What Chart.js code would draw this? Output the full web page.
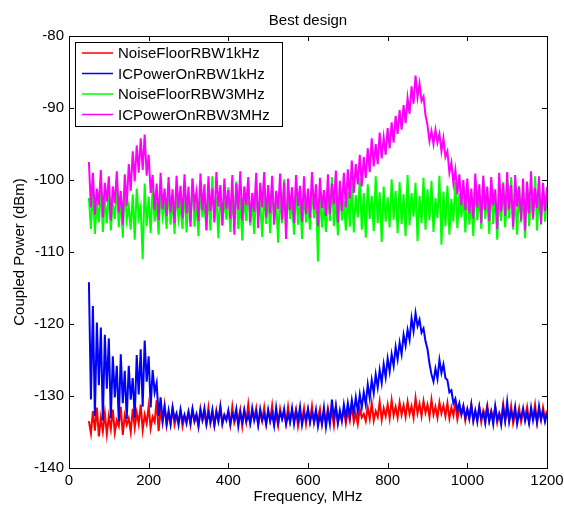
<!DOCTYPE html>
<html>
<head>
<meta charset="utf-8">
<title>Best design</title>
<script src="https://cdn.jsdelivr.net/npm/chart.js@4/dist/chart.umd.min.js"></script>
<style>
  html, body { margin: 0; padding: 0; background: #fff; }
  canvas { display: block; }
</style>
</head>
<body>
<canvas id="grafico" width="564" height="508"></canvas>
<script>
// eixo de frequência (MHz), um ponto a cada 5 MHz
const freqMHz = [
  50,55,60,65,70,75,80,85,90,95,100,105,110,115,120,125,130,135,140,145,
  150,155,160,165,170,175,180,185,190,195,200,205,210,215,220,225,230,235,240,245,
  250,255,260,265,270,275,280,285,290,295,300,305,310,315,320,325,330,335,340,345,
  350,355,360,365,370,375,380,385,390,395,400,405,410,415,420,425,430,435,440,445,
  450,455,460,465,470,475,480,485,490,495,500,505,510,515,520,525,530,535,540,545,
  550,555,560,565,570,575,580,585,590,595,600,605,610,615,620,625,630,635,640,645,
  650,655,660,665,670,675,680,685,690,695,700,705,710,715,720,725,730,735,740,745,
  750,755,760,765,770,775,780,785,790,795,800,805,810,815,820,825,830,835,840,845,
  850,855,860,865,870,875,880,885,890,895,900,905,910,915,920,925,930,935,940,945,
  950,955,960,965,970,975,980,985,990,995,1000,1005,1010,1015,1020,1025,1030,1035,1040,1045,
  1050,1055,1060,1065,1070,1075,1080,1085,1090,1095,1100,1105,1110,1115,1120,1125,1130,1135,1140,1145,
  1150,1155,1160,1165,1170,1175,1180,1185,1190,1195,1200
];

const noiseFloorRBW1kHz = [
  -133.5,-135.2,-132.1,-134.8,-131.6,-135.6,-133.0,-134.9,-132.4,-135.3,
  -132.8,-134.6,-131.9,-135.1,-133.4,-134.2,-131.5,-135.4,-132.7,-134.0,
  -133.1,-135.0,-131.8,-134.4,-132.3,-133.9,-131.2,-134.7,-132.6,-133.8,
  -131.4,-134.5,-132.9,-133.6,-130.6,-134.9,-132.0,-133.7,-131.3,-134.1,
  -132.5,-133.9,-131.7,-134.0,-132.8,-133.5,-132.1,-134.2,-132.9,-133.3,
  -132.2,-134.0,-131.9,-133.6,-132.7,-134.3,-131.8,-133.4,-132.5,-133.9,
  -131.6,-133.8,-132.4,-134.1,-132.0,-133.5,-131.4,-133.9,-132.6,-133.2,
  -132.3,-134.0,-131.5,-133.7,-132.8,-133.3,-131.9,-134.2,-132.1,-133.6,
  -131.2,-133.8,-132.5,-133.1,-131.7,-134.0,-132.4,-133.5,-131.6,-133.9,
  -132.2,-133.4,-131.3,-133.7,-132.6,-134.1,-131.8,-133.2,-132.4,-133.8,
  -131.5,-133.6,-132.1,-133.3,-131.9,-134.2,-132.7,-133.4,-131.7,-133.9,
  -132.0,-133.5,-131.4,-133.8,-132.5,-133.1,-131.8,-134.0,-132.3,-133.6,
  -131.7,-133.3,-132.2,-134.1,-131.5,-133.7,-132.6,-133.2,-131.9,-133.8,
  -132.1,-133.4,-131.3,-133.6,-132.4,-133.9,-131.8,-133.0,-132.5,-133.5,
  -131.6,-133.2,-131.0,-133.4,-132.1,-132.9,-130.8,-133.3,-131.7,-132.8,
  -131.2,-133.1,-130.6,-132.7,-131.5,-133.0,-130.9,-132.6,-131.3,-132.9,
  -130.8,-132.5,-131.4,-133.0,-130.3,-132.4,-131.1,-132.8,-130.7,-132.3,
  -131.2,-132.9,-130.5,-132.6,-131.5,-133.0,-130.9,-132.4,-131.3,-132.8,
  -131.0,-133.1,-131.6,-132.7,-130.9,-133.2,-131.8,-132.5,-131.4,-133.4,
  -131.9,-133.0,-131.2,-133.5,-132.2,-133.1,-131.5,-133.6,-132.0,-132.8,
  -131.3,-133.4,-132.1,-133.0,-131.6,-133.7,-132.4,-133.2,-131.1,-133.5,
  -132.0,-133.3,-131.4,-133.8,-132.5,-133.1,-131.7,-133.6,-132.2,-132.9,
  -131.5,-133.5,-132.3,-133.0,-131.2,-133.7,-132.1,-133.4,-131.6,-133.2,
  -132.0
];

const icPowerOnRBW1kHz = [
  -114.2,-130.5,-117.5,-132.8,-119.8,-128.5,-120.5,-133.4,-121.5,-129.0,
  -122.0,-133.1,-124.5,-130.2,-125.8,-133.5,-124.2,-131.0,-126.5,-133.2,
  -125.8,-130.5,-127.5,-133.0,-124.3,-129.8,-123.5,-131.5,-122.3,-128.0,
  -124.5,-131.6,-126.4,-129.5,-128.2,-132.8,-130.2,-133.4,-131.5,-133.8,
  -132.0,-133.9,-131.6,-133.2,-132.4,-134.0,-131.9,-133.5,-132.6,-133.8,
  -132.2,-133.7,-131.8,-133.4,-132.5,-134.1,-132.0,-133.3,-131.7,-133.9,
  -132.4,-133.6,-131.9,-134.0,-132.3,-133.5,-131.6,-133.8,-132.7,-133.4,
  -132.0,-133.9,-132.5,-133.2,-131.8,-134.2,-132.3,-133.6,-131.9,-133.5,
  -132.6,-133.8,-131.7,-133.4,-132.2,-134.0,-131.8,-133.3,-132.5,-133.9,
  -131.9,-133.5,-132.4,-134.1,-131.6,-133.7,-132.3,-133.2,-131.8,-133.9,
  -132.5,-133.6,-131.7,-133.9,-132.1,-133.4,-131.5,-134.0,-132.4,-133.3,
  -131.8,-133.7,-132.3,-133.5,-131.9,-134.2,-132.6,-133.8,-131.6,-134.3,
  -132.2,-133.9,-130.5,-133.1,-131.4,-133.8,-132.0,-133.5,-131.2,-133.0,
  -131.0,-132.8,-130.6,-132.4,-130.2,-132.1,-129.8,-131.6,-129.5,-131.2,
  -128.4,-130.3,-127.8,-129.6,-127.0,-128.8,-126.4,-128.2,-125.6,-127.4,
  -124.8,-126.6,-124.2,-125.8,-123.2,-124.9,-122.6,-124.2,-121.5,-123.0,
  -120.8,-122.2,-119.2,-121.0,-118.5,-120.3,-119.4,-121.2,-120.6,-122.4,
  -123.5,-125.5,-127.0,-128.0,-126.2,-127.6,-125.0,-126.8,-125.6,-127.5,
  -127.8,-129.5,-129.2,-131.0,-130.4,-132.0,-131.0,-132.6,-131.4,-133.0,
  -131.8,-133.2,-131.2,-133.4,-132.0,-133.6,-131.5,-133.1,-132.3,-133.8,
  -131.7,-133.5,-132.2,-133.9,-131.4,-133.3,-132.5,-134.0,-131.6,-133.4,
  -130.8,-133.6,-132.1,-133.2,-131.5,-133.9,-132.4,-133.1,-131.7,-133.5,
  -132.3,-133.8,-131.6,-133.4,-132.0,-133.7,-131.4,-133.2,-132.2,-133.6,
  -132.4
];

const noiseFloorRBW3MHz = [
  -102.5,-106.8,-101.2,-107.5,-103.0,-105.9,-100.8,-107.2,-102.6,-106.0,
  -101.5,-107.0,-103.3,-105.4,-100.6,-106.6,-102.2,-108.0,-101.0,-105.5,
  -103.6,-106.9,-102.0,-108.3,-101.2,-105.2,-103.8,-111.0,-100.5,-106.4,
  -102.3,-107.4,-101.0,-105.8,-103.0,-107.6,-101.6,-105.0,-102.8,-106.8,
  -100.4,-106.2,-102.5,-107.5,-101.3,-105.4,-103.4,-106.8,-100.8,-107.3,
  -102.0,-105.8,-99.8,-106.5,-102.7,-107.8,-101.1,-105.2,-103.1,-106.9,
  -101.4,-107.0,-99.5,-105.6,-102.3,-108.1,-100.9,-106.3,-102.5,-105.5,
  -101.0,-107.2,-103.0,-105.6,-100.2,-106.8,-102.4,-108.4,-101.7,-105.7,
  -100.6,-106.3,-102.8,-107.5,-101.2,-105.0,-103.3,-107.9,-101.5,-106.1,
  -102.1,-107.4,-100.4,-105.8,-102.9,-108.7,-101.6,-106.0,-99.9,-106.8,
  -101.8,-105.4,-103.1,-107.6,-100.9,-106.2,-102.3,-108.2,-101.4,-105.9,
  -102.7,-106.9,-100.7,-105.3,-102.0,-111.3,-101.2,-106.6,-103.0,-107.2,
  -101.3,-105.7,-99.6,-106.4,-102.4,-107.7,-100.8,-105.6,-102.9,-107.0,
  -101.6,-106.5,-100.2,-107.3,-102.1,-105.2,-99.8,-106.9,-101.8,-108.0,
  -100.6,-105.4,-102.2,-107.1,-99.5,-106.0,-101.7,-108.6,-100.9,-105.8,
  -102.4,-106.6,-99.9,-105.5,-101.5,-107.4,-100.3,-106.1,-102.0,-107.8,
  -99.3,-106.3,-101.8,-105.1,-100.4,-108.5,-102.2,-106.0,-99.7,-106.9,
  -101.3,-105.6,-100.1,-107.2,-102.5,-105.3,-99.4,-109.0,-101.6,-106.4,
  -100.8,-107.6,-102.6,-105.8,-100.2,-106.7,-101.9,-105.2,-102.3,-107.3,
  -101.1,-106.2,-102.9,-107.8,-100.5,-105.6,-101.7,-106.8,-99.8,-105.4,
  -102.2,-107.5,-100.7,-106.1,-101.4,-108.3,-102.6,-105.7,-100.3,-106.6,
  -101.9,-105.3,-99.6,-106.9,-102.1,-107.6,-100.8,-105.9,-101.5,-108.1,
  -100.4,-106.4,-102.4,-105.5,-99.5,-107.0,-101.3,-106.2,-100.9,-105.8,
  -102.0
];

const icPowerOnRBW3MHz = [
  -97.5,-103.8,-99.0,-104.8,-101.2,-103.5,-98.6,-105.2,-100.4,-103.0,
  -99.5,-105.6,-100.9,-103.2,-98.8,-104.5,-101.5,-106.2,-99.2,-103.6,
  -97.8,-101.5,-96.0,-100.2,-95.2,-99.0,-94.2,-98.6,-93.7,-99.4,
  -96.5,-101.8,-99.3,-104.2,-100.5,-105.6,-99.0,-104.0,-101.2,-105.0,
  -99.6,-104.5,-101.3,-106.0,-99.4,-103.9,-100.8,-105.3,-99.2,-104.6,
  -100.9,-106.5,-99.8,-103.4,-101.6,-105.7,-99.1,-104.2,-100.6,-107.0,
  -99.5,-104.3,-101.2,-105.9,-98.9,-103.7,-100.7,-106.3,-99.8,-104.0,
  -101.4,-105.4,-99.3,-107.6,-100.5,-104.1,-98.8,-105.6,-100.9,-103.5,
  -99.6,-105.9,-101.8,-104.4,-99.0,-106.7,-100.4,-103.8,-98.9,-105.2,
  -100.7,-104.6,-99.4,-106.2,-101.5,-104.0,-99.1,-105.5,-100.3,-108.2,
  -99.8,-104.2,-101.0,-106.0,-99.3,-103.6,-100.8,-105.8,-99.5,-104.7,
  -101.2,-105.3,-98.9,-104.1,-100.6,-106.4,-99.7,-103.9,-101.4,-105.0,
  -99.2,-104.8,-100.5,-103.4,-98.7,-105.9,-100.1,-104.3,-99.0,-103.8,
  -98.5,-102.6,-97.3,-101.8,-97.8,-100.6,-96.5,-100.9,-96.8,-99.7,
  -95.6,-98.9,-94.2,-98.1,-95.0,-97.8,-93.4,-97.0,-94.1,-96.5,
  -92.8,-95.6,-92.0,-94.8,-91.1,-93.6,-90.3,-93.0,-89.6,-92.1,
  -88.6,-90.8,-87.0,-89.4,-85.5,-88.5,-86.6,-89.0,-88.4,-91.0,
  -92.4,-94.6,-93.2,-95.0,-93.0,-94.8,-93.6,-96.0,-94.2,-96.8,
  -96.0,-99.0,-97.6,-100.5,-98.6,-102.0,-99.2,-103.5,-100.0,-104.2,
  -99.8,-104.6,-101.2,-105.3,-99.1,-103.8,-100.6,-106.0,-99.4,-104.2,
  -100.9,-105.7,-99.6,-103.5,-101.3,-106.8,-99.0,-104.4,-100.5,-105.0,
  -98.9,-104.1,-100.7,-106.5,-99.3,-103.7,-101.0,-105.6,-99.8,-107.0,
  -100.2,-104.6,-98.8,-105.3,-101.1,-103.9,-99.5,-106.1,-100.4,-104.3,
  -101.0
];

const seriesLabels = ["NoiseFloorRBW1kHz", "ICPowerOnRBW1kHz", "NoiseFloorRBW3MHz", "ICPowerOnRBW3MHz"];
const seriesColors = ["#ff0000", "#0000ff", "#00ff00", "#ff00ff"];
const xTicks = [0, 200, 400, 600, 800, 1000, 1200];
const yTicks = [-140, -130, -120, -110, -100, -90, -80];

const fonte = "'Liberation Sans', Arial, sans-serif";

function pontos(valores) {
    return freqMHz.map((f, i) => ({ x: f, y: valores[i] }));
}

// moldura estilo Matlab: caixa completa e marcas de escala para dentro
const moldura = {
    id: "moldura",
    afterDatasetsDraw(chart) {
        const { ctx, chartArea: a, scales } = chart;
        ctx.save();
        ctx.strokeStyle = "#000";
        ctx.lineWidth = 1;
        ctx.strokeRect(a.left + 0.5, a.top + 0.5, a.right - a.left, a.bottom - a.top);
        ctx.beginPath();
        xTicks.forEach(v => {
            const px = Math.round(scales.x.getPixelForValue(v)) + 0.5;
            ctx.moveTo(px, a.bottom); ctx.lineTo(px, a.bottom - 5);
            ctx.moveTo(px, a.top); ctx.lineTo(px, a.top + 5);
        });
        yTicks.forEach(v => {
            const py = Math.round(scales.y.getPixelForValue(v)) + 0.5;
            ctx.moveTo(a.left, py); ctx.lineTo(a.left + 5, py);
            ctx.moveTo(a.right, py); ctx.lineTo(a.right - 5, py);
        });
        ctx.stroke();
        ctx.restore();
    },
    afterDraw(chart) {
        const { ctx, chartArea: a } = chart;
        ctx.save();
        // título
        ctx.fillStyle = "#000";
        ctx.font = "15px " + fonte;
        ctx.textAlign = "center";
        ctx.textBaseline = "alphabetic";
        ctx.fillText("Best design", (a.left + a.right) / 2, 25);

        // legenda dentro do gráfico
        const lx = 75, ly = 42, lw = 207, lh = 84;
        ctx.fillStyle = "#fff";
        ctx.fillRect(lx, ly, lw, lh);
        ctx.strokeStyle = "#000";
        ctx.lineWidth = 1;
        ctx.strokeRect(lx + 0.5, ly + 0.5, lw, lh);
        ctx.textAlign = "left";
        ctx.textBaseline = "middle";
        chart.data.datasets.forEach((ds, i) => {
            const y = 53 + i * 20.5;
            ctx.strokeStyle = ds.borderColor;
            ctx.lineWidth = 1.5;
            ctx.beginPath();
            ctx.moveTo(82, y); ctx.lineTo(113, y);
            ctx.stroke();
            ctx.fillStyle = "#000";
            ctx.fillText(ds.label, 118, y + 1);
        });
        ctx.restore();
    }
};

const ordem = [4, 3, 2, 1]; // magenta por cima do verde, azul por cima do vermelho
const valores = [noiseFloorRBW1kHz, icPowerOnRBW1kHz, noiseFloorRBW3MHz, icPowerOnRBW3MHz];

new Chart(document.getElementById("grafico").getContext("2d"), {
    type: "line",
    data: {
        datasets: valores.map((v, i) => ({
            label: seriesLabels[i],
            data: pontos(v),
            borderColor: seriesColors[i],
            backgroundColor: seriesColors[i],
            borderWidth: 2,
            pointRadius: 0,
            tension: 0,
            fill: false,
            order: ordem[i]
        }))
    },
    options: {
        responsive: false,
        animation: false,
        parsing: false,
        layout: { padding: { top: 36, right: 17, left: 0, bottom: 0 } },
        plugins: {
            legend: { display: false },
            title: { display: false },
            tooltip: { enabled: false }
        },
        scales: {
            x: {
                type: "linear",
                min: 0,
                max: 1200,
                afterFit: s => { s.height = 40; s.paddingLeft = 0; s.paddingRight = 0; },
                afterBuildTicks: s => { s.ticks = xTicks.map(v => ({ value: v })); },
                grid: { display: false, drawTicks: false },
                border: { display: false },
                ticks: { color: "#000", font: { family: fonte, size: 15 }, padding: 4, maxRotation: 0, callback: v => String(v) },
                title: { display: true, text: "Frequency, MHz", color: "#000", font: { family: fonte, size: 15 }, padding: { top: 0, bottom: 2 } }
            },
            y: {
                type: "linear",
                min: -140,
                max: -80,
                afterFit: s => { s.width = 69; s.paddingTop = 0; s.paddingBottom = 0; },
                afterBuildTicks: s => { s.ticks = yTicks.map(v => ({ value: v })); },
                grid: { display: false, drawTicks: false },
                border: { display: false },
                ticks: { color: "#000", font: { family: fonte, size: 15 }, padding: 5, callback: v => String(v) },
                title: { display: true, text: "Coupled Power (dBm)", color: "#000", font: { family: fonte, size: 15 }, padding: { top: 11, bottom: 0 } }
            }
        }
    },
    plugins: [moldura]
});
</script>
</body>
</html>
